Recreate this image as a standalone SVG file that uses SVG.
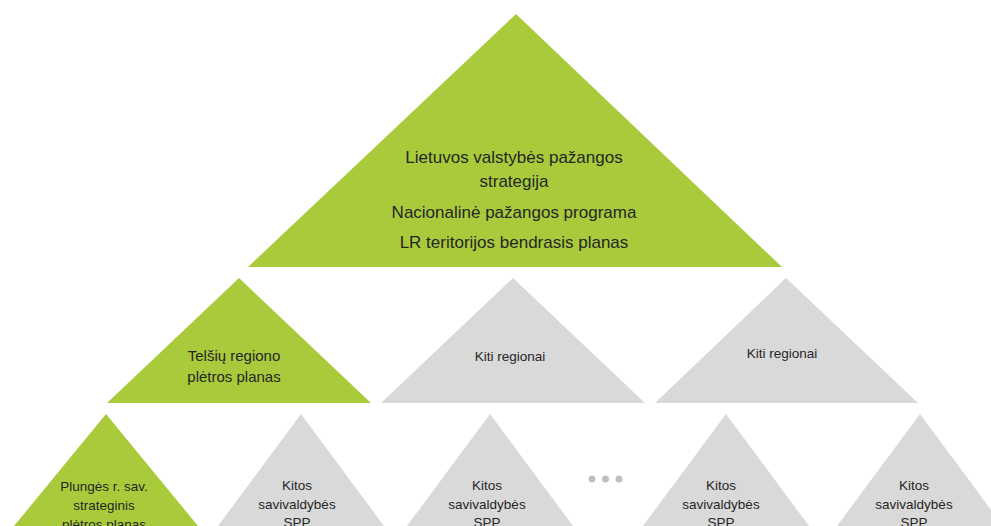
<svg xmlns="http://www.w3.org/2000/svg" width="991" height="526" viewBox="0 0 991 526">
<style>
.g{fill:#A9CB3B}
.s{fill:#D9D9D9}
text{font-family:"Liberation Sans",Arial,sans-serif;fill:#262626;text-anchor:middle}
.t1{font-size:17px}
.t2{font-size:15px}
.t3{font-size:13.5px}
.t4{font-size:13.5px}
.dot{fill:#BFBFBF}
</style>
<rect width="991" height="526" fill="#FFFFFF"/>
<g id="national">
<polygon class="g" points="516,14 782,267 248,267"/>
<text class="t1" x="514" y="163">Lietuvos valstybės pažangos</text>
<text class="t1" x="514" y="187">strategija</text>
<text class="t1" x="514" y="218">Nacionalinė pažangos programa</text>
<text class="t1" x="514" y="248">LR teritorijos bendrasis planas</text>
</g>
<g id="telsiai">
<polygon class="g" points="239,278 371,403 107,403"/>
<text class="t2" x="234" y="361">Telšių regiono</text>
<text class="t2" x="234" y="382">plėtros planas</text>
</g>
<g id="region2">
<polygon class="s" points="513,278 645,403 381,403"/>
<text class="t3" x="510" y="361">Kiti regionai</text>
</g>
<g id="region3">
<polygon class="s" points="786,278 918,403 655,403"/>
<text class="t3" x="782" y="358">Kiti regionai</text>
</g>
<g id="plunge">
<polygon class="g" points="106,414 198,526 14,526"/>
<text class="t4" x="104" y="491">Plungės r. sav.</text>
<text class="t4" x="104" y="510">strateginis</text>
<text class="t4" x="104" y="529">plėtros planas</text>
</g>
<g id="mun1">
<polygon class="s" points="301,414 384,526 218,526"/>
<text class="t4" x="297" y="490">Kitos</text>
<text class="t4" x="297" y="509">savivaldybės</text>
<text class="t4" x="297" y="527">SPP</text>
</g>
<g id="mun2">
<polygon class="s" points="490,414 573,526 407,526"/>
<text class="t4" x="487" y="490">Kitos</text>
<text class="t4" x="487" y="509">savivaldybės</text>
<text class="t4" x="487" y="527">SPP</text>
</g>
<g id="dots">
<circle class="dot" cx="592" cy="479" r="3.5"/>
<circle class="dot" cx="605.5" cy="479" r="3.5"/>
<circle class="dot" cx="619" cy="479" r="3.5"/>
</g>
<g id="mun3">
<polygon class="s" points="726,414 809,526 643,526"/>
<text class="t4" x="721" y="490">Kitos</text>
<text class="t4" x="721" y="509">savivaldybės</text>
<text class="t4" x="721" y="527">SPP</text>
</g>
<g id="mun4">
<polygon class="s" points="920,414 1003,526 837,526"/>
<text class="t4" x="914" y="490">Kitos</text>
<text class="t4" x="914" y="509">savivaldybės</text>
<text class="t4" x="914" y="527">SPP</text>
</g>
<g id="connectors"/>
</svg>
